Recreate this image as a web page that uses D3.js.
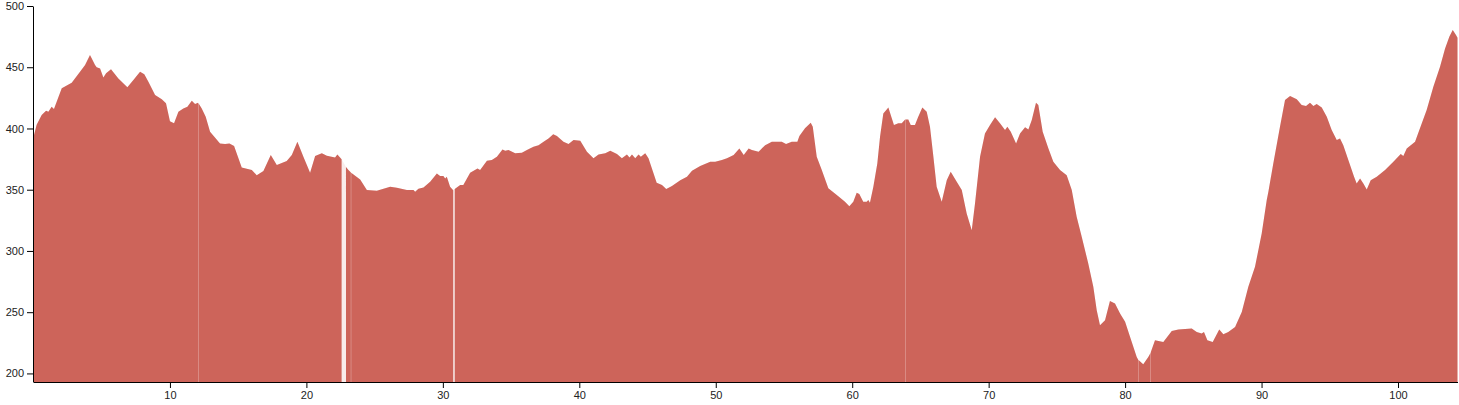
<!DOCTYPE html>
<html>
<head>
<meta charset="utf-8">
<script src="https://cdn.jsdelivr.net/npm/d3@7"></script>
<style>
  html, body { margin: 0; padding: 0; background: #fff; }
  svg { display: block; }
  .axis text { font-family: "Liberation Sans", Arial, sans-serif; font-size: 11px; fill: #222; }
  .axis path, .axis line { stroke: #000; }
</style>
</head>
<body>
<svg id="chart" width="1459" height="405"></svg>
<script>
// Distance (km) along the route
const km = [
  0, 0.23, 0.6, 0.92, 1.09, 1.33, 1.5, 2.07, 2.8, 3.41, 3.78, 4.14, 4.51, 4.63, 4.88, 5.12, 5.32, 5.68,
  6.22, 6.88, 7.32, 7.81, 8.12, 8.42, 8.91, 9.4, 9.71, 10.0, 10.3, 10.62, 10.98, 11.28, 11.6, 11.84, 12.06,
  12.07, 12.08, 12.33, 12.62, 12.94, 13.67, 14.04, 14.36, 14.7, 15.26, 16.0, 16.36, 16.85, 17.39, 17.83,
  18.56, 18.93, 19.34, 19.78, 20.27, 20.64, 21.13, 21.5, 22.1, 22.27, 22.58,
  22.74, 22.9, 23.08, 23.26, 23.27, 23.28, 23.94, 24.43, 25.16, 26.14, 26.63, 27.36, 27.85, 27.97, 28.21,
  28.58, 29.07, 29.56, 29.8, 30.04, 30.17, 30.29, 30.53, 30.76,
  30.81, 30.87, 31.27, 31.5, 32.0, 32.54, 32.73, 33.23, 33.59, 33.96, 34.37, 34.57, 34.81, 35.3, 35.79,
  36.16, 36.64, 37.01, 37.38, 37.74, 38.09, 38.36, 38.84, 39.21, 39.58, 40.07, 40.56, 41.04, 41.41, 41.9,
  42.27, 42.76, 43.12, 43.49, 43.68, 43.86, 44.1, 44.34, 44.51, 44.83, 45.07, 45.67, 46.06, 46.37, 46.79,
  47.4, 47.89, 48.26, 48.86, 49.6, 49.96, 50.45, 50.82, 51.31, 51.73, 52.05, 52.41, 52.65, 53.14, 53.62,
  54.11, 54.84, 55.15, 55.57, 55.98, 56.13, 56.54, 56.96, 57.11, 57.4, 57.77, 58.25, 58.87, 59.47, 59.79,
  60.08, 60.33, 60.52, 60.81, 61.06, 61.18, 61.3, 61.55, 61.84, 62.04, 62.28, 62.65, 62.9, 63.06, 63.38,
  63.63, 63.88, 63.89, 63.90, 64.11, 64.29, 64.6, 64.84, 65.14, 65.46, 65.7, 65.95, 66.19, 66.56, 66.93,
  67.22, 67.66, 68.03, 68.39, 68.76, 69.0, 69.37, 69.73, 70.1, 70.47, 70.83, 71.2, 71.37, 71.62, 72.01,
  72.3, 72.67, 72.91, 73.16, 73.47, 73.64, 73.96, 74.38, 74.74, 75.23, 75.72, 76.09, 76.45, 76.82, 77.3,
  77.67, 77.92, 78.16, 78.53, 78.89, 79.26, 79.63, 80.0, 80.36, 80.85, 80.96, 80.97, 80.98, 81.33, 81.7,
  81.86, 81.87, 81.88, 82.19, 82.8, 83.42, 83.9, 84.88, 85.25, 85.61, 85.78, 86.03, 86.42, 86.9, 87.2,
  87.56, 88.06, 88.55, 89.03, 89.52, 90.01, 90.38, 90.5, 90.86, 91.35, 91.72, 92.09, 92.58, 92.94, 93.26,
  93.55, 93.8, 94.04, 94.41, 94.78, 95.14, 95.51, 95.75, 95.99, 96.36, 96.78, 96.97, 97.22, 97.46, 97.71,
  98.0, 98.44, 99.05, 99.66, 100.2, 100.39, 100.64, 101.25, 101.61, 102.1, 102.59, 103.08, 103.45, 103.76,
  104.01, 104.25, 104.36
];

// Elevation (m); null marks a gap in the recorded track
const elevation = [
  393, 403, 411, 414.5, 413.7, 417.7, 415.8, 432.8, 437.4, 446.3, 451.8, 460, 451.8, 449.9, 449, 441.7, 445, 448.3,
  440.9, 433.6, 439.5, 446.3, 444.2, 438.2, 427.3, 423.8, 420.5, 406, 404.2, 413.7, 416.4, 417.7, 422.6, 420, 421,
  null, 420.8, 416.4, 409.6, 397.3, 387.8, 387.3, 387.8, 385.6, 368.2, 366, 361.9, 365.2, 378.3, 370.1,
  373.4, 378.3, 389.1, 376.9, 363.8, 377.5, 379.7, 377.7, 376.4, 378.8, 374.8,
  null, 368.5, 366, 364, null, 363.8, 358.4, 349.7, 349.1, 352.4, 351.6, 349.7, 349.7, 348.3, 350.8,
  351.9, 356.5, 363.3, 361.1, 361.1, 359.2, 360.5, 352.4, 349.5,
  null, 350.5, 353.8, 353.8, 363.8, 367.4, 366, 373.6, 374.2, 376.9, 382.9, 381.8, 382.4, 379.7, 380.2,
  382.4, 385.1, 386.4, 389.1, 391.9, 395.2, 393.8, 389.1, 387.3, 390.5, 390, 381, 375.6, 378.8, 379.7,
  381.8, 379.1, 375.6, 378.8, 376.4, 378.8, 375.6, 378.8, 376.9, 379.7, 375.6, 355.6, 353.8, 350.5, 353,
  357.8, 360.5, 365.4, 369.3, 372.8, 372.8, 374.2, 375.6, 378.3, 383.7, 378.3, 383.7, 382.4, 381, 386.4,
  389.1, 389.1, 387.3, 389.1, 389.1, 393.8, 400.1, 404.7, 401.4, 376.9, 366, 351.1, 345.6, 340.1, 336.6,
  340.1, 347.5, 346.4, 340.1, 340.1, 341.5, 339.3, 352.4, 371.5, 393.2, 412.3, 417.2, 408.3, 402.8, 404.2,
  404.2, 407.4, null, 407.4, 407.4, 402.8, 402.8, 409.6, 417.2, 413.7, 401.4, 376.9, 352.4, 340.1, 357.8,
  364.6, 356.5, 349.7, 330.6, 317, 338.8, 376.9, 396, 402.8, 409.1, 404.2, 398.7, 401.4, 397.3, 387.8,
  396, 400.9, 399.2, 406.9, 421, 419.1, 397.3, 383.7, 372.8, 366, 361.9, 349.7, 327.9, 311.5, 289.8,
  270.7, 251.6, 239.4, 243.5, 259.2, 257.1, 248.9, 242.1, 230, 213.5, 211.2, null, 211, 207.5, 213.5,
  216.7, null, 217.2, 227.1, 225.7, 234.7, 235.8, 236.7, 233.9, 232.6, 233.9, 227.1, 225.7, 235.8, 232,
  233.9, 238, 250.2, 270.7, 287, 314.3, 341.5, 348.3, 371.5, 401.4, 423.2, 426.5, 423.8, 419.1, 418.3,
  421, 418.3, 420, 417.2, 409.6, 398.7, 390.5, 391.9, 386.4, 374.2, 360.5, 355.1, 359.2, 355.1, 350.2,
  357.8, 360.5, 366, 372.8, 379.1, 377.5, 383.7, 389.1, 400.1, 415, 434.1, 450.4, 465.4, 474.9,
  480.4, 476.3, 474
];

const yTicks = [200, 250, 300, 350, 400, 450, 500];
const xTicks = [10, 20, 30, 40, 50, 60, 70, 80, 90, 100];
const yDomain = [193, 500];

const data = km.map((k, i) => ({ km: k, ele: elevation[i] }));

const svg = d3.select("#chart");
const x = d3.scaleLinear().domain([0, d3.max(km)]).range([33.5, 1457.5]);
const y = d3.scaleLinear().domain(yDomain).range([382, 6]);

const fill = "#cd645a";

// faint full profile (shows through the gaps)
const areaAll = d3.area()
  .x(d => x(d.km)).y0(y(yDomain[0])).y1(d => y(d.ele));
svg.append("path")
  .datum(data.filter(d => d.ele != null))
  .attr("d", areaAll)
  .attr("fill", fill)
  .attr("fill-opacity", 0.12);

const area = d3.area()
  .defined(d => d.ele != null)
  .x(d => x(d.km)).y0(y(yDomain[0])).y1(d => y(d.ele));
svg.append("path")
  .datum(data)
  .attr("d", area)
  .attr("fill", fill);

svg.append("g")
  .attr("class", "axis")
  .attr("transform", "translate(33,0)")
  .call(d3.axisLeft(y).tickValues(yTicks).tickSizeOuter(0))
  .call(g => g.selectAll("text").attr("font-family", null).attr("font-size", null));

svg.append("g")
  .attr("class", "axis")
  .attr("transform", "translate(0,382)")
  .call(d3.axisBottom(x).tickValues(xTicks).tickSizeOuter(0))
  .call(g => g.selectAll("text").attr("font-family", null).attr("font-size", null));
</script>
</body>
</html>
